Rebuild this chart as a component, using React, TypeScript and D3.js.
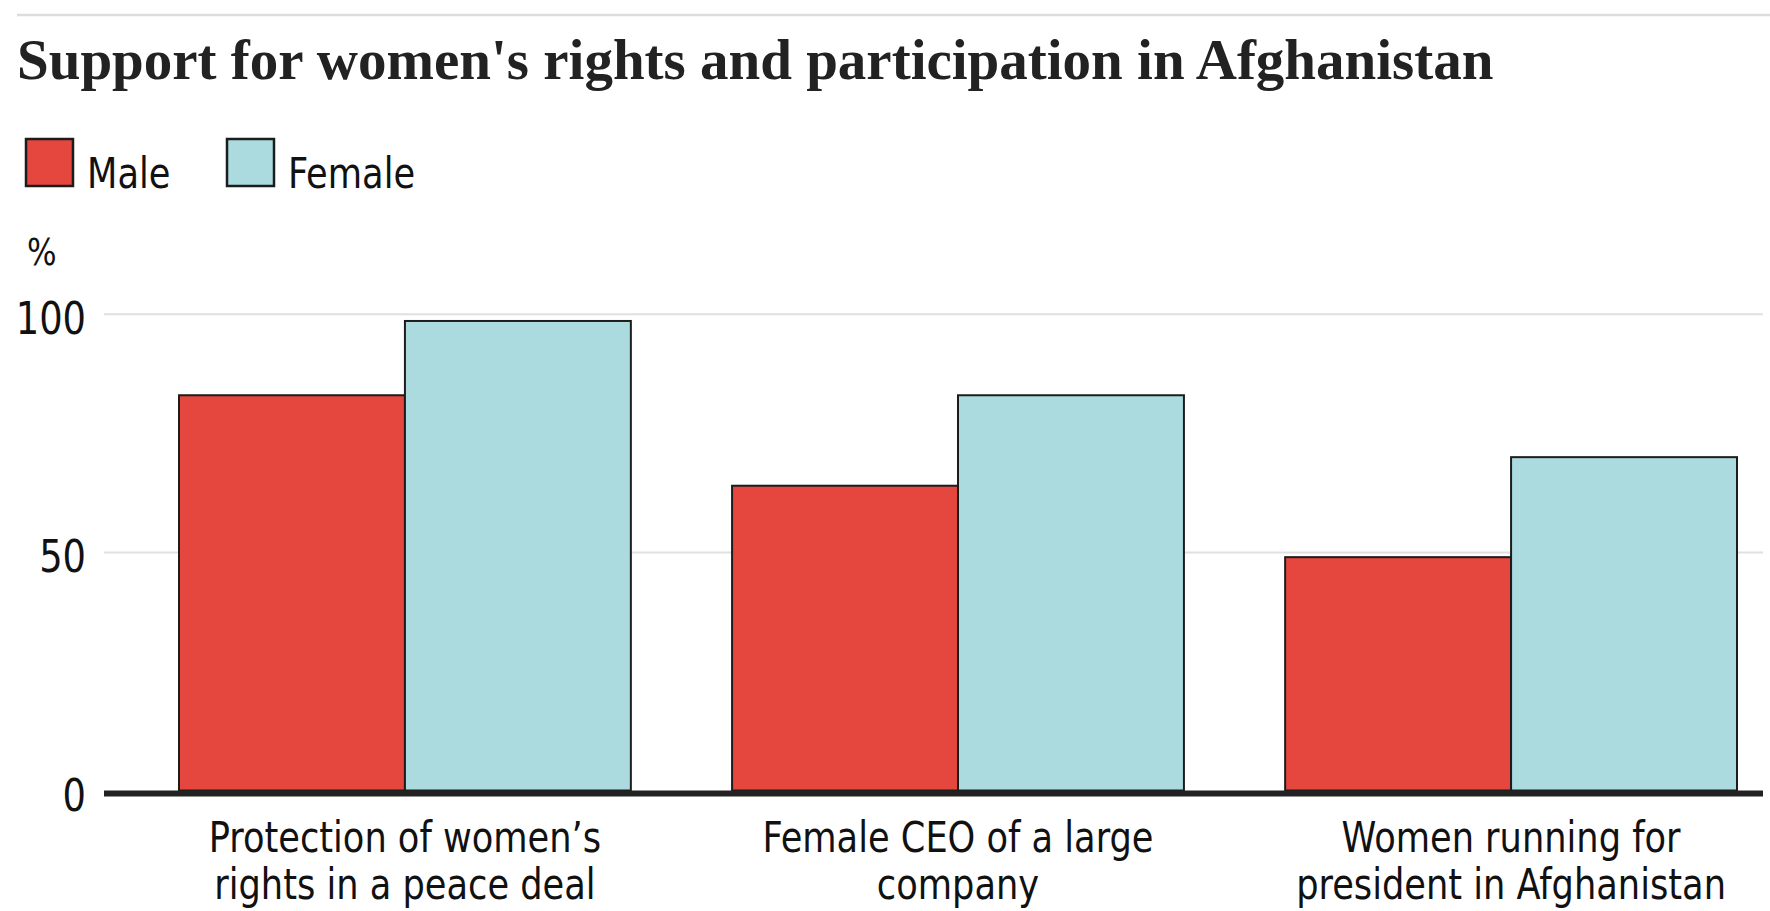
import { useEffect, useRef } from 'react'
import * as d3 from 'd3'

const categories = ['protection', 'ceo', 'president']
const categoryLines = [
  ['Protection of women’s', 'rights in a peace deal'],
  ['Female CEO of a large', 'company'],
  ['Women running for', 'president in Afghanistan'],
]
const seriesNames = ['Male', 'Female']
const maleValues = [83, 64, 49]
const femaleValues = [98.6, 83, 70]
const yTicks = [0, 50, 100]

const COLORS: Record<string, string> = { Male: '#e5463e', Female: '#abdbdf' }
const SANS = "'Liberation Sans Narrow', 'DejaVu Sans Condensed', 'Roboto', sans-serif"
const SERIF = "'Liberation Serif', 'DejaVu Serif', serif"
const SQUEEZE = 0.91 // reference uses a narrow face

export default function App() {
  const svgRef = useRef<SVGSVGElement>(null)
  const width = 1770
  const height = 911

  useEffect(() => {
    if (!svgRef.current) return
    const svg = d3.select(svgRef.current)
    svg.selectAll('*').remove()

    const plotLeft = 104
    const plotRight = 1763

    // narrow sans text anchored at (x, y)
    const sansText = (x: number, y: number, size: number, anchor = 'start') =>
      svg.append('text')
        .attr('transform', `translate(${x},${y}) scale(${SQUEEZE},1)`)
        .attr('text-anchor', anchor)
        .attr('font-family', SANS)
        .attr('font-size', size)
        .attr('fill', '#111')

    // top rule + title
    svg.append('line')
      .attr('x1', 17).attr('x2', width)
      .attr('y1', 15).attr('y2', 15)
      .attr('stroke', '#dcdcdc')
      .attr('stroke-width', 2.5)

    svg.append('text')
      .attr('x', 17)
      .attr('y', 79)
      .attr('font-family', SERIF)
      .attr('font-weight', 700)
      .attr('font-size', 57)
      .attr('fill', '#222')
      .text("Support for women's rights and participation in Afghanistan")

    // legend
    const legendX = [26, 227]
    seriesNames.forEach((name, i) => {
      svg.append('rect')
        .attr('x', legendX[i])
        .attr('y', 139)
        .attr('width', 47)
        .attr('height', 47)
        .attr('fill', COLORS[name])
        .attr('stroke', '#1c1c1c')
        .attr('stroke-width', 2.5)
      sansText(legendX[i] + 61, 188, 43).text(name)
    })

    sansText(27, 265, 38).text('%')

    // scales
    const y = d3.scaleLinear().domain([0, 100]).range([790.5, 314.3])
    const x0 = d3.scaleBand<string>()
      .domain(categories)
      .range([179, 1737])
      .paddingInner(0.183)
      .paddingOuter(0)
    const x1 = d3.scaleBand<string>()
      .domain(seriesNames)
      .range([0, x0.bandwidth()])
      .padding(0)

    // gridlines
    svg.append('g')
      .selectAll('line')
      .data(yTicks.filter(t => t > 0))
      .enter()
      .append('line')
      .attr('x1', plotLeft)
      .attr('x2', plotRight)
      .attr('y1', d => y(d))
      .attr('y2', d => y(d))
      .attr('stroke', '#e0e0e0')
      .attr('stroke-width', 2)

    // y tick labels
    yTicks.forEach(t => {
      sansText(86, y(t) + 20, 45, 'end').text(t)
    })

    // bars
    const rows = categories.map((c, i) => ({
      category: c,
      values: [
        { series: 'Male', value: maleValues[i] },
        { series: 'Female', value: femaleValues[i] },
      ],
    }))

    const groups = svg.append('g')
      .selectAll('g')
      .data(rows)
      .enter()
      .append('g')
      .attr('transform', d => `translate(${x0(d.category)},0)`)

    groups.selectAll('rect')
      .data(d => d.values)
      .enter()
      .append('rect')
      .attr('x', d => x1(d.series)!)
      .attr('y', d => y(d.value))
      .attr('width', x1.bandwidth())
      .attr('height', d => y(0) - y(d.value))
      .attr('fill', d => COLORS[d.series])
      .attr('stroke', '#1c1c1c')
      .attr('stroke-width', 2)

    // baseline
    svg.append('line')
      .attr('x1', plotLeft)
      .attr('x2', plotRight)
      .attr('y1', y(0) + 3)
      .attr('y2', y(0) + 3)
      .attr('stroke', '#222')
      .attr('stroke-width', 6)

    // category labels
    categories.forEach((c, i) => {
      const cx = x0(c)! + x0.bandwidth() / 2
      const t = sansText(cx, 852, 43, 'middle')
      categoryLines[i].forEach((line, j) => {
        t.append('tspan')
          .attr('x', 0)
          .attr('y', j * 47)
          .text(line)
      })
    })
  }, [])

  return (
    <svg
      ref={svgRef}
      width={width}
      height={height}
      style={{ position: 'absolute', left: 0, top: 0, background: '#fff' }}
    />
  )
}
